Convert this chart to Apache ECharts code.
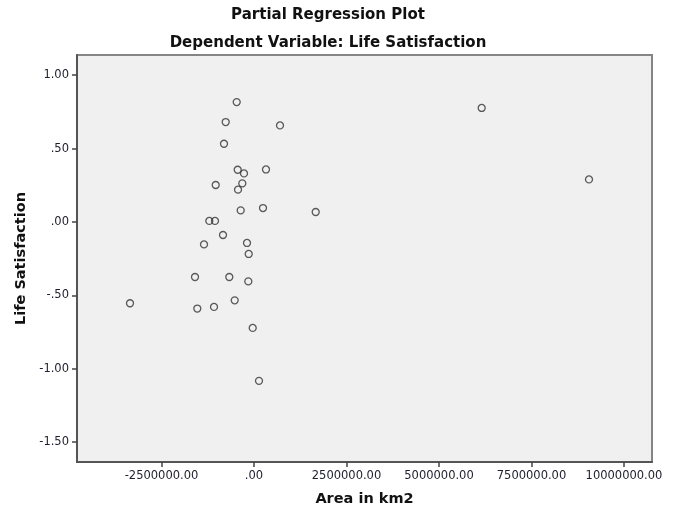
<!DOCTYPE html>
<html>
<head>
<meta charset="utf-8">
<script src="https://cdn.jsdelivr.net/npm/echarts@6/dist/echarts.min.js"></script>
<style>
html,body{margin:0;padding:0;background:#fff;}
#chart{width:673px;height:515px;}
</style>
</head>
<body>
<div id="chart"></div>
<script>
// Data
var areaValues = [
  -467600, -764900, 702700, -810800, -440500, -270300, 324300, -1035100,
  -316200, -432400, -359500, 243200, 1667600, -1208100, -1054100, -837800,
  -1351400, -189200, -143200, -1594600, -667600, -154100, -3351400, -1532400,
  -1081100, -521600, -35100, 135100, 6154000, 9054000
];
var lifeSatValues = [
  0.817, 0.681, 0.658, 0.533, 0.356, 0.331, 0.358, 0.252,
  0.263, 0.220, 0.079, 0.095, 0.068, 0.007, 0.007, -0.089,
  -0.153, -0.143, -0.218, -0.375, -0.375, -0.405, -0.554, -0.590,
  -0.579, -0.534, -0.722, -1.083, 0.777, 0.290
];
var xTicks = [-2500000, 0, 2500000, 5000000, 7500000, 10000000];
var yTicks = [-1.5, -1.0, -0.5, 0, 0.5, 1.0];
var titleText = 'Partial Regression Plot';
var subtitleText = 'Dependent Variable: Life Satisfaction';
var xName = 'Area in km2';
var yName = 'Life Satisfaction';

function fmt(v) {
  var s = Number(v).toFixed(2);
  s = s.replace(/^0\./, '.').replace(/^-0\./, '-.');
  return s;
}

var points = areaValues.map(function (x, i) { return [x, lifeSatValues[i]]; });

var chart = echarts.init(document.getElementById('chart'), null, {renderer: 'canvas'});
var font = 'DejaVu Sans';
chart.setOption({
  backgroundColor: '#ffffff',
  animation: false,
  graphic: [
    {type: 'text', x: 328, y: 15, style: {text: titleText, font: 'bold 15px "DejaVu Sans"', fill: '#111', align: 'center', verticalAlign: 'middle'}},
    {type: 'text', x: 328, y: 43, style: {text: subtitleText, font: 'bold 15px "DejaVu Sans"', fill: '#111', align: 'center', verticalAlign: 'middle'}}
  ],
  grid: {
    left: 77, right: 21, top: 55, bottom: 53,
    show: true, backgroundColor: '#f0f0f0', borderColor: '#858585', borderWidth: 2
  },
  xAxis: {
    type: 'value',
    min: -4784000, max: 10757000,
    name: xName, nameLocation: 'middle', nameGap: 30,
    nameTextStyle: {fontFamily: font, fontWeight: 'bold', fontSize: 14.5, color: '#111'},
    axisLine: {show: true, onZero: false, lineStyle: {color: '#555', width: 2}},
    axisTick: {show: true, length: 5, lineStyle: {color: '#444', width: 1.5}, customValues: xTicks},
    axisLabel: {fontFamily: font, fontSize: 11.5, color: '#1e1e2e', margin: 8, formatter: fmt, customValues: xTicks, showMinLabel: true, showMaxLabel: true},
    splitLine: {show: false}
  },
  yAxis: {
    type: 'value',
    min: -1.636, max: 1.138,
    name: yName, nameLocation: 'middle', nameGap: 48, nameRotate: 90,
    nameTextStyle: {fontFamily: font, fontWeight: 'bold', fontSize: 14.5, color: '#111'},
    axisLine: {show: true, onZero: false, lineStyle: {color: '#555', width: 2}},
    axisTick: {show: true, length: 5, lineStyle: {color: '#444', width: 1.5}, customValues: yTicks},
    axisLabel: {fontFamily: font, fontSize: 11.5, color: '#1e1e2e', margin: 8, formatter: fmt, customValues: yTicks},
    splitLine: {show: false}
  },
  series: [{
    type: 'scatter',
    data: points,
    symbol: 'circle',
    symbolSize: 7,
    itemStyle: {color: 'rgba(0,0,0,0)', borderColor: '#333', borderWidth: 1.3}
  }]
});
</script>
</body>
</html>
